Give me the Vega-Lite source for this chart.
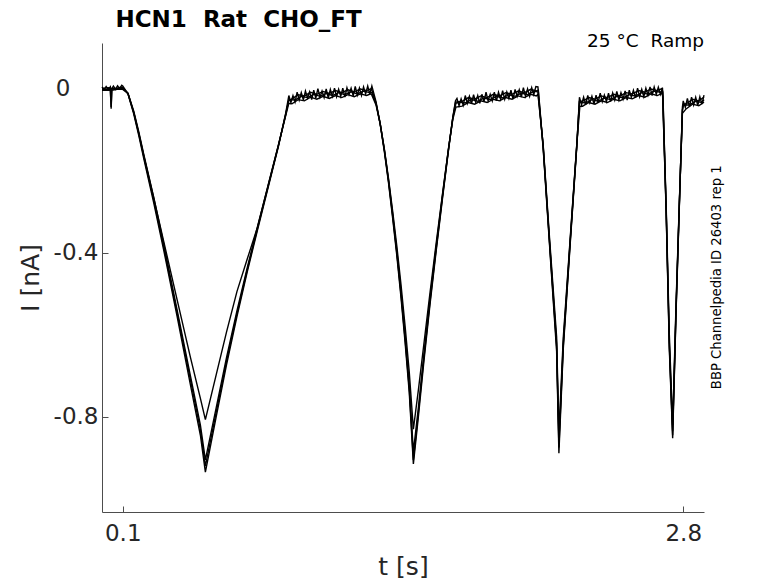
{
"$schema": "https://vega.github.io/schema/vega-lite/v6.json",
"width": 602, "height": 469,
"autosize": {"type": "none"},
"padding": {"left": 102, "top": 43, "right": 74, "bottom": 71},
"background": "white",
"config": {"view": {"stroke": null}, "font": "DejaVu Sans",
 "axis": {"domainColor": "#4d4d4d", "tickColor": "#4d4d4d", "tickSize": -6, "grid": false, "labelFont": "DejaVu Sans", "labelFontSize": 23, "labelColor": "#262626", "titleFont": "DejaVu Sans", "titleFontSize": 25, "titleFontWeight": "normal", "titleColor": "#262626"}},
"layer": [
{"data": {"values": [
{"trace":"a","t":0,"i":0.004},{"trace":"a","t":0.01,"i":-0.003},{"trace":"a","t":0.02,"i":0.005},{"trace":"a","t":0.03,"i":-0.002},{"trace":"a","t":0.04,"i":0.004},{"trace":"a","t":0.044,"i":-0.049},{"trace":"a","t":0.048,"i":0.0},{"trace":"a","t":0.055,"i":0.006},{"trace":"a","t":0.065,"i":-0.002},{"trace":"a","t":0.075,"i":0.007},{"trace":"a","t":0.085,"i":0.0},{"trace":"a","t":0.095,"i":0.008},{"trace":"a","t":0.1,"i":0.006},
{"trace":"a","t":0.125,"i":-0.013},{"trace":"a","t":0.153,"i":-0.062},{"trace":"a","t":0.177,"i":-0.114},{"trace":"a","t":0.201,"i":-0.17},{"trace":"a","t":0.249,"i":-0.278},{"trace":"a","t":0.297,"i":-0.393},{"trace":"a","t":0.362,"i":-0.556},{"trace":"a","t":0.426,"i":-0.722},{"trace":"a","t":0.474,"i":-0.845},{"trace":"a","t":0.498,"i":-0.935},
{"trace":"a","t":0.55,"i":-0.8},{"trace":"a","t":0.6,"i":-0.673},{"trace":"a","t":0.65,"i":-0.556},{"trace":"a","t":0.7,"i":-0.446},{"trace":"a","t":0.75,"i":-0.343},{"trace":"a","t":0.8,"i":-0.242},{"trace":"a","t":0.85,"i":-0.141},{"trace":"a","t":0.885,"i":-0.06},
{"trace":"a","t":0.9,"i":-0.017},{"trace":"a","t":0.91,"i":-0.034},{"trace":"a","t":0.92,"i":-0.017},{"trace":"a","t":0.93,"i":-0.033},{"trace":"a","t":0.94,"i":-0.009},{"trace":"a","t":0.95,"i":-0.028},{"trace":"a","t":0.96,"i":-0.01},{"trace":"a","t":0.97,"i":-0.028},{"trace":"a","t":0.98,"i":-0.006},{"trace":"a","t":0.99,"i":-0.023},
{"trace":"a","t":1.0,"i":-0.008},{"trace":"a","t":1.01,"i":-0.027},{"trace":"a","t":1.02,"i":-0.004},{"trace":"a","t":1.03,"i":-0.023},{"trace":"a","t":1.04,"i":0.0},{"trace":"a","t":1.05,"i":-0.021},{"trace":"a","t":1.06,"i":-0.006},{"trace":"a","t":1.07,"i":-0.022},{"trace":"a","t":1.08,"i":-0.001},{"trace":"a","t":1.09,"i":-0.023},
{"trace":"a","t":1.1,"i":-0.002},{"trace":"a","t":1.11,"i":-0.019},{"trace":"a","t":1.12,"i":0.001},{"trace":"a","t":1.13,"i":-0.02},{"trace":"a","t":1.14,"i":-0.002},{"trace":"a","t":1.15,"i":-0.019},{"trace":"a","t":1.16,"i":0.001},{"trace":"a","t":1.17,"i":-0.021},{"trace":"a","t":1.18,"i":0.002},{"trace":"a","t":1.19,"i":-0.015},
{"trace":"a","t":1.2,"i":0.001},{"trace":"a","t":1.21,"i":-0.018},{"trace":"a","t":1.22,"i":0.005},{"trace":"a","t":1.23,"i":-0.016},{"trace":"a","t":1.24,"i":0.001},{"trace":"a","t":1.25,"i":-0.017},{"trace":"a","t":1.26,"i":0.004},{"trace":"a","t":1.27,"i":-0.013},{"trace":"a","t":1.28,"i":0.006},{"trace":"a","t":1.29,"i":-0.014},
{"trace":"a","t":1.3,"i":0.006},{"trace":"a","t":1.32,"i":-0.032},{"trace":"a","t":1.34,"i":-0.087},{"trace":"a","t":1.36,"i":-0.153},{"trace":"a","t":1.38,"i":-0.229},{"trace":"a","t":1.4,"i":-0.315},{"trace":"a","t":1.42,"i":-0.406},{"trace":"a","t":1.44,"i":-0.507},{"trace":"a","t":1.46,"i":-0.618},{"trace":"a","t":1.48,"i":-0.74},{"trace":"a","t":1.5,"i":-0.915},
{"trace":"a","t":1.524,"i":-0.8},{"trace":"a","t":1.55,"i":-0.668},{"trace":"a","t":1.58,"i":-0.527},{"trace":"a","t":1.61,"i":-0.395},{"trace":"a","t":1.64,"i":-0.269},{"trace":"a","t":1.67,"i":-0.147},{"trace":"a","t":1.69,"i":-0.07},{"trace":"a","t":1.703,"i":-0.03},
{"trace":"a","t":1.71,"i":-0.024},{"trace":"a","t":1.72,"i":-0.042},{"trace":"a","t":1.73,"i":-0.025},{"trace":"a","t":1.74,"i":-0.041},{"trace":"a","t":1.75,"i":-0.017},{"trace":"a","t":1.76,"i":-0.036},{"trace":"a","t":1.77,"i":-0.019},{"trace":"a","t":1.78,"i":-0.037},{"trace":"a","t":1.79,"i":-0.015},
{"trace":"a","t":1.8,"i":-0.033},{"trace":"a","t":1.81,"i":-0.017},{"trace":"a","t":1.82,"i":-0.036},{"trace":"a","t":1.83,"i":-0.014},{"trace":"a","t":1.84,"i":-0.032},{"trace":"a","t":1.85,"i":-0.009},{"trace":"a","t":1.86,"i":-0.03},{"trace":"a","t":1.87,"i":-0.014},{"trace":"a","t":1.88,"i":-0.03},{"trace":"a","t":1.89,"i":-0.009},
{"trace":"a","t":1.9,"i":-0.03},{"trace":"a","t":1.91,"i":-0.009},{"trace":"a","t":1.92,"i":-0.026},{"trace":"a","t":1.93,"i":-0.005},{"trace":"a","t":1.94,"i":-0.026},{"trace":"a","t":1.95,"i":-0.008},{"trace":"a","t":1.96,"i":-0.024},{"trace":"a","t":1.97,"i":-0.004},{"trace":"a","t":1.98,"i":-0.026},{"trace":"a","t":1.99,"i":-0.002},
{"trace":"a","t":2.0,"i":-0.019},{"trace":"a","t":2.01,"i":-0.003},{"trace":"a","t":2.02,"i":-0.021},{"trace":"a","t":2.03,"i":0.002},{"trace":"a","t":2.04,"i":-0.019},{"trace":"a","t":2.05,"i":-0.001},{"trace":"a","t":2.06,"i":-0.019},{"trace":"a","t":2.07,"i":0.002},{"trace":"a","t":2.08,"i":-0.015},{"trace":"a","t":2.09,"i":0.005},
{"trace":"a","t":2.1,"i":0.004},{"trace":"a","t":2.125,"i":-0.145},{"trace":"a","t":2.157,"i":-0.39},{"trace":"a","t":2.19,"i":-0.64},{"trace":"a","t":2.201,"i":-0.889},{"trace":"a","t":2.222,"i":-0.635},{"trace":"a","t":2.254,"i":-0.39},{"trace":"a","t":2.287,"i":-0.143},{"trace":"a","t":2.3,"i":-0.021},
{"trace":"a","t":2.31,"i":-0.04},{"trace":"a","t":2.32,"i":-0.021},{"trace":"a","t":2.33,"i":-0.039},{"trace":"a","t":2.34,"i":-0.017},{"trace":"a","t":2.35,"i":-0.035},{"trace":"a","t":2.36,"i":-0.019},{"trace":"a","t":2.37,"i":-0.038},{"trace":"a","t":2.38,"i":-0.016},{"trace":"a","t":2.39,"i":-0.034},
{"trace":"a","t":2.4,"i":-0.011},{"trace":"a","t":2.41,"i":-0.032},{"trace":"a","t":2.42,"i":-0.016},{"trace":"a","t":2.43,"i":-0.032},{"trace":"a","t":2.44,"i":-0.011},{"trace":"a","t":2.45,"i":-0.032},{"trace":"a","t":2.46,"i":-0.011},{"trace":"a","t":2.47,"i":-0.028},{"trace":"a","t":2.48,"i":-0.007},{"trace":"a","t":2.49,"i":-0.028},
{"trace":"a","t":2.5,"i":-0.01},{"trace":"a","t":2.51,"i":-0.026},{"trace":"a","t":2.52,"i":-0.006},{"trace":"a","t":2.53,"i":-0.028},{"trace":"a","t":2.54,"i":-0.004},{"trace":"a","t":2.55,"i":-0.021},{"trace":"a","t":2.56,"i":-0.004},{"trace":"a","t":2.57,"i":-0.022},{"trace":"a","t":2.58,"i":0.001},{"trace":"a","t":2.59,"i":-0.02},
{"trace":"a","t":2.6,"i":-0.002},{"trace":"a","t":2.61,"i":-0.02},{"trace":"a","t":2.62,"i":0.001},{"trace":"a","t":2.63,"i":-0.016},{"trace":"a","t":2.64,"i":0.004},{"trace":"a","t":2.65,"i":-0.017},{"trace":"a","t":2.66,"i":0.004},{"trace":"a","t":2.67,"i":-0.014},{"trace":"a","t":2.68,"i":0.003},{"trace":"a","t":2.69,"i":-0.014},
{"trace":"a","t":2.7,"i":0.002},{"trace":"a","t":2.718,"i":-0.308},{"trace":"a","t":2.733,"i":-0.636},{"trace":"a","t":2.749,"i":-0.852},{"trace":"a","t":2.765,"i":-0.552},{"trace":"a","t":2.78,"i":-0.306},{"trace":"a","t":2.796,"i":-0.045},
{"trace":"a","t":2.8,"i":-0.03},{"trace":"a","t":2.81,"i":-0.046},{"trace":"a","t":2.82,"i":-0.024},{"trace":"a","t":2.83,"i":-0.044},{"trace":"a","t":2.84,"i":-0.021},{"trace":"a","t":2.85,"i":-0.04},{"trace":"a","t":2.86,"i":-0.021},{"trace":"a","t":2.87,"i":-0.041},{"trace":"a","t":2.88,"i":-0.02},{"trace":"a","t":2.89,"i":-0.038},{"trace":"a","t":2.9,"i":-0.016},

{"trace":"b","t":0,"i":0.0},{"trace":"b","t":0.03,"i":0.002},{"trace":"b","t":0.06,"i":-0.001},{"trace":"b","t":0.09,"i":0.003},{"trace":"b","t":0.1,"i":0.002},
{"trace":"b","t":0.125,"i":-0.012},{"trace":"b","t":0.153,"i":-0.059},{"trace":"b","t":0.177,"i":-0.11},{"trace":"b","t":0.201,"i":-0.165},{"trace":"b","t":0.249,"i":-0.271},{"trace":"b","t":0.297,"i":-0.385},{"trace":"b","t":0.362,"i":-0.547},{"trace":"b","t":0.426,"i":-0.71},{"trace":"b","t":0.474,"i":-0.832},{"trace":"b","t":0.498,"i":-0.92},
{"trace":"b","t":0.55,"i":-0.789},{"trace":"b","t":0.6,"i":-0.664},{"trace":"b","t":0.65,"i":-0.549},{"trace":"b","t":0.7,"i":-0.441},{"trace":"b","t":0.75,"i":-0.339},{"trace":"b","t":0.8,"i":-0.239},{"trace":"b","t":0.85,"i":-0.139},{"trace":"b","t":0.885,"i":-0.062},{"trace":"b","t":0.899,"i":-0.03},
{"trace":"b","t":0.915,"i":-0.025},{"trace":"b","t":0.945,"i":-0.015},{"trace":"b","t":0.975,"i":-0.018},{"trace":"b","t":1.005,"i":-0.009},{"trace":"b","t":1.035,"i":-0.014},{"trace":"b","t":1.065,"i":-0.007},{"trace":"b","t":1.095,"i":-0.012},{"trace":"b","t":1.125,"i":-0.005},{"trace":"b","t":1.155,"i":-0.01},{"trace":"b","t":1.185,"i":-0.003},{"trace":"b","t":1.215,"i":-0.008},{"trace":"b","t":1.245,"i":-0.001},{"trace":"b","t":1.275,"i":-0.005},{"trace":"b","t":1.295,"i":-0.001},
{"trace":"b","t":1.3,"i":-0.004},{"trace":"b","t":1.32,"i":-0.035},{"trace":"b","t":1.34,"i":-0.085},{"trace":"b","t":1.36,"i":-0.15},{"trace":"b","t":1.38,"i":-0.225},{"trace":"b","t":1.4,"i":-0.31},{"trace":"b","t":1.42,"i":-0.4},{"trace":"b","t":1.44,"i":-0.5},{"trace":"b","t":1.46,"i":-0.61},{"trace":"b","t":1.48,"i":-0.73},{"trace":"b","t":1.5,"i":-0.905},
{"trace":"b","t":1.524,"i":-0.79},{"trace":"b","t":1.55,"i":-0.66},{"trace":"b","t":1.58,"i":-0.52},{"trace":"b","t":1.61,"i":-0.39},{"trace":"b","t":1.64,"i":-0.265},{"trace":"b","t":1.67,"i":-0.145},{"trace":"b","t":1.69,"i":-0.07},{"trace":"b","t":1.703,"i":-0.033},
{"trace":"b","t":1.735,"i":-0.031},{"trace":"b","t":1.765,"i":-0.022},{"trace":"b","t":1.795,"i":-0.026},{"trace":"b","t":1.825,"i":-0.018},{"trace":"b","t":1.855,"i":-0.022},{"trace":"b","t":1.885,"i":-0.014},{"trace":"b","t":1.915,"i":-0.018},{"trace":"b","t":1.945,"i":-0.01},{"trace":"b","t":1.975,"i":-0.014},{"trace":"b","t":2.005,"i":-0.006},{"trace":"b","t":2.035,"i":-0.01},{"trace":"b","t":2.065,"i":-0.002},{"trace":"b","t":2.092,"i":-0.006},
{"trace":"b","t":2.102,"i":-0.004},{"trace":"b","t":2.125,"i":-0.141},{"trace":"b","t":2.157,"i":-0.385},{"trace":"b","t":2.19,"i":-0.628},{"trace":"b","t":2.201,"i":-0.875},{"trace":"b","t":2.222,"i":-0.628},{"trace":"b","t":2.254,"i":-0.385},{"trace":"b","t":2.287,"i":-0.141},{"trace":"b","t":2.3,"i":-0.031},
{"trace":"b","t":2.315,"i":-0.031},{"trace":"b","t":2.345,"i":-0.022},{"trace":"b","t":2.375,"i":-0.026},{"trace":"b","t":2.405,"i":-0.018},{"trace":"b","t":2.435,"i":-0.022},{"trace":"b","t":2.465,"i":-0.014},{"trace":"b","t":2.495,"i":-0.018},{"trace":"b","t":2.525,"i":-0.01},{"trace":"b","t":2.555,"i":-0.013},{"trace":"b","t":2.585,"i":-0.005},{"trace":"b","t":2.615,"i":-0.009},{"trace":"b","t":2.645,"i":-0.001},{"trace":"b","t":2.675,"i":-0.005},{"trace":"b","t":2.698,"i":0.0},
{"trace":"b","t":2.702,"i":-0.01},{"trace":"b","t":2.718,"i":-0.303},{"trace":"b","t":2.733,"i":-0.628},{"trace":"b","t":2.749,"i":-0.845},{"trace":"b","t":2.765,"i":-0.547},{"trace":"b","t":2.78,"i":-0.303},{"trace":"b","t":2.796,"i":-0.051},{"trace":"b","t":2.802,"i":-0.038},
{"trace":"b","t":2.815,"i":-0.037},{"trace":"b","t":2.845,"i":-0.026},{"trace":"b","t":2.875,"i":-0.03},{"trace":"b","t":2.9,"i":-0.021},

{"trace":"c","t":0,"i":-0.003},{"trace":"c","t":0.035,"i":-0.002},{"trace":"c","t":0.065,"i":0.0},{"trace":"c","t":0.1,"i":0.0},
{"trace":"c","t":0.125,"i":-0.011},{"trace":"c","t":0.153,"i":-0.055},{"trace":"c","t":0.177,"i":-0.105},{"trace":"c","t":0.201,"i":-0.16},{"trace":"c","t":0.249,"i":-0.265},{"trace":"c","t":0.297,"i":-0.378},{"trace":"c","t":0.362,"i":-0.54},{"trace":"c","t":0.426,"i":-0.7},{"trace":"c","t":0.474,"i":-0.82},{"trace":"c","t":0.498,"i":-0.905},
{"trace":"c","t":0.55,"i":-0.778},{"trace":"c","t":0.6,"i":-0.655},{"trace":"c","t":0.65,"i":-0.542},{"trace":"c","t":0.7,"i":-0.436},{"trace":"c","t":0.75,"i":-0.335},{"trace":"c","t":0.8,"i":-0.236},{"trace":"c","t":0.85,"i":-0.137},{"trace":"c","t":0.885,"i":-0.064},
{"trace":"c","t":0.9,"i":-0.027},{"trace":"c","t":0.93,"i":-0.028},{"trace":"c","t":0.96,"i":-0.019},{"trace":"c","t":0.99,"i":-0.022},{"trace":"c","t":1.02,"i":-0.014},{"trace":"c","t":1.05,"i":-0.019},{"trace":"c","t":1.08,"i":-0.012},{"trace":"c","t":1.11,"i":-0.017},{"trace":"c","t":1.14,"i":-0.01},{"trace":"c","t":1.17,"i":-0.015},{"trace":"c","t":1.2,"i":-0.008},{"trace":"c","t":1.23,"i":-0.013},{"trace":"c","t":1.26,"i":-0.006},{"trace":"c","t":1.29,"i":-0.01},
{"trace":"c","t":1.3,"i":-0.01},{"trace":"c","t":1.32,"i":-0.037},{"trace":"c","t":1.34,"i":-0.085},{"trace":"c","t":1.36,"i":-0.148},{"trace":"c","t":1.38,"i":-0.222},{"trace":"c","t":1.4,"i":-0.305},{"trace":"c","t":1.42,"i":-0.394},{"trace":"c","t":1.44,"i":-0.492},{"trace":"c","t":1.46,"i":-0.6},{"trace":"c","t":1.48,"i":-0.72},{"trace":"c","t":1.5,"i":-0.885},
{"trace":"c","t":1.524,"i":-0.778},{"trace":"c","t":1.55,"i":-0.65},{"trace":"c","t":1.58,"i":-0.512},{"trace":"c","t":1.61,"i":-0.384},{"trace":"c","t":1.64,"i":-0.261},{"trace":"c","t":1.67,"i":-0.143},{"trace":"c","t":1.69,"i":-0.072},{"trace":"c","t":1.705,"i":-0.036},
{"trace":"c","t":1.72,"i":-0.033},{"trace":"c","t":1.75,"i":-0.035},{"trace":"c","t":1.78,"i":-0.027},{"trace":"c","t":1.81,"i":-0.031},{"trace":"c","t":1.84,"i":-0.023},{"trace":"c","t":1.87,"i":-0.027},{"trace":"c","t":1.9,"i":-0.019},{"trace":"c","t":1.93,"i":-0.023},{"trace":"c","t":1.96,"i":-0.015},{"trace":"c","t":1.99,"i":-0.019},{"trace":"c","t":2.02,"i":-0.011},{"trace":"c","t":2.05,"i":-0.015},{"trace":"c","t":2.08,"i":-0.007},
{"trace":"c","t":2.1,"i":-0.008},{"trace":"c","t":2.125,"i":-0.138},{"trace":"c","t":2.157,"i":-0.38},{"trace":"c","t":2.19,"i":-0.62},{"trace":"c","t":2.201,"i":-0.86},{"trace":"c","t":2.222,"i":-0.62},{"trace":"c","t":2.254,"i":-0.38},{"trace":"c","t":2.287,"i":-0.138},{"trace":"c","t":2.3,"i":-0.033},
{"trace":"c","t":2.33,"i":-0.035},{"trace":"c","t":2.36,"i":-0.027},{"trace":"c","t":2.39,"i":-0.031},{"trace":"c","t":2.42,"i":-0.023},{"trace":"c","t":2.45,"i":-0.027},{"trace":"c","t":2.48,"i":-0.019},{"trace":"c","t":2.51,"i":-0.023},{"trace":"c","t":2.54,"i":-0.015},{"trace":"c","t":2.57,"i":-0.018},{"trace":"c","t":2.6,"i":-0.01},{"trace":"c","t":2.63,"i":-0.014},{"trace":"c","t":2.66,"i":-0.006},{"trace":"c","t":2.69,"i":-0.009},
{"trace":"c","t":2.7,"i":-0.008},{"trace":"c","t":2.718,"i":-0.298},{"trace":"c","t":2.733,"i":-0.62},{"trace":"c","t":2.749,"i":-0.835},{"trace":"c","t":2.765,"i":-0.54},{"trace":"c","t":2.78,"i":-0.3},{"trace":"c","t":2.796,"i":-0.055},{"trace":"c","t":2.8,"i":-0.04},
{"trace":"c","t":2.83,"i":-0.04},{"trace":"c","t":2.86,"i":-0.031},{"trace":"c","t":2.89,"i":-0.034},{"trace":"c","t":2.9,"i":-0.027},

{"trace":"d","t":0,"i":-0.004},{"trace":"d","t":0.04,"i":-0.004},{"trace":"d","t":0.044,"i":-0.045},{"trace":"d","t":0.047,"i":-0.004},{"trace":"d","t":0.08,"i":-0.001},{"trace":"d","t":0.1,"i":-0.002},
{"trace":"d","t":0.125,"i":-0.012},{"trace":"d","t":0.153,"i":-0.058},{"trace":"d","t":0.177,"i":-0.108},{"trace":"d","t":0.201,"i":-0.163},{"trace":"d","t":0.249,"i":-0.266},{"trace":"d","t":0.297,"i":-0.372},{"trace":"d","t":0.362,"i":-0.515},{"trace":"d","t":0.426,"i":-0.655},{"trace":"d","t":0.474,"i":-0.755},{"trace":"d","t":0.498,"i":-0.807},
{"trace":"d","t":0.55,"i":-0.698},{"trace":"d","t":0.6,"i":-0.593},{"trace":"d","t":0.65,"i":-0.495},{"trace":"d","t":0.7,"i":-0.415},{"trace":"d","t":0.75,"i":-0.336},{"trace":"d","t":0.8,"i":-0.237},{"trace":"d","t":0.85,"i":-0.138},{"trace":"d","t":0.885,"i":-0.066},{"trace":"d","t":0.9,"i":-0.036},
{"trace":"d","t":0.915,"i":-0.037},{"trace":"d","t":0.945,"i":-0.027},{"trace":"d","t":0.975,"i":-0.03},{"trace":"d","t":1.005,"i":-0.021},{"trace":"d","t":1.035,"i":-0.026},{"trace":"d","t":1.065,"i":-0.019},{"trace":"d","t":1.095,"i":-0.024},{"trace":"d","t":1.125,"i":-0.017},{"trace":"d","t":1.155,"i":-0.022},{"trace":"d","t":1.185,"i":-0.015},{"trace":"d","t":1.215,"i":-0.02},{"trace":"d","t":1.245,"i":-0.013},{"trace":"d","t":1.275,"i":-0.017},{"trace":"d","t":1.295,"i":-0.013},
{"trace":"d","t":1.3,"i":-0.016},{"trace":"d","t":1.32,"i":-0.04},{"trace":"d","t":1.34,"i":-0.086},{"trace":"d","t":1.36,"i":-0.147},{"trace":"d","t":1.38,"i":-0.218},{"trace":"d","t":1.4,"i":-0.298},{"trace":"d","t":1.42,"i":-0.383},{"trace":"d","t":1.44,"i":-0.476},{"trace":"d","t":1.46,"i":-0.578},{"trace":"d","t":1.48,"i":-0.69},{"trace":"d","t":1.5,"i":-0.83},
{"trace":"d","t":1.524,"i":-0.735},{"trace":"d","t":1.55,"i":-0.625},{"trace":"d","t":1.58,"i":-0.498},{"trace":"d","t":1.61,"i":-0.376},{"trace":"d","t":1.64,"i":-0.258},{"trace":"d","t":1.67,"i":-0.143},{"trace":"d","t":1.69,"i":-0.075},{"trace":"d","t":1.705,"i":-0.045},
{"trace":"d","t":1.735,"i":-0.043},{"trace":"d","t":1.765,"i":-0.034},{"trace":"d","t":1.795,"i":-0.038},{"trace":"d","t":1.825,"i":-0.03},{"trace":"d","t":1.855,"i":-0.034},{"trace":"d","t":1.885,"i":-0.026},{"trace":"d","t":1.915,"i":-0.03},{"trace":"d","t":1.945,"i":-0.022},{"trace":"d","t":1.975,"i":-0.026},{"trace":"d","t":2.005,"i":-0.018},{"trace":"d","t":2.035,"i":-0.022},{"trace":"d","t":2.065,"i":-0.014},{"trace":"d","t":2.092,"i":-0.018},
{"trace":"d","t":2.1,"i":-0.014},{"trace":"d","t":2.125,"i":-0.135},{"trace":"d","t":2.157,"i":-0.372},{"trace":"d","t":2.19,"i":-0.605},{"trace":"d","t":2.201,"i":-0.84},{"trace":"d","t":2.222,"i":-0.608},{"trace":"d","t":2.254,"i":-0.375},{"trace":"d","t":2.287,"i":-0.138},{"trace":"d","t":2.302,"i":-0.043},
{"trace":"d","t":2.315,"i":-0.043},{"trace":"d","t":2.345,"i":-0.034},{"trace":"d","t":2.375,"i":-0.038},{"trace":"d","t":2.405,"i":-0.03},{"trace":"d","t":2.435,"i":-0.034},{"trace":"d","t":2.465,"i":-0.026},{"trace":"d","t":2.495,"i":-0.03},{"trace":"d","t":2.525,"i":-0.022},{"trace":"d","t":2.555,"i":-0.025},{"trace":"d","t":2.585,"i":-0.017},{"trace":"d","t":2.615,"i":-0.021},{"trace":"d","t":2.645,"i":-0.013},{"trace":"d","t":2.675,"i":-0.017},{"trace":"d","t":2.698,"i":-0.012},
{"trace":"d","t":2.702,"i":-0.02},{"trace":"d","t":2.718,"i":-0.29},{"trace":"d","t":2.733,"i":-0.6},{"trace":"d","t":2.749,"i":-0.82},{"trace":"d","t":2.765,"i":-0.53},{"trace":"d","t":2.78,"i":-0.295},{"trace":"d","t":2.796,"i":-0.06},
{"trace":"d","t":2.815,"i":-0.049},{"trace":"d","t":2.845,"i":-0.038},{"trace":"d","t":2.875,"i":-0.042},{"trace":"d","t":2.9,"i":-0.033}
]},
"mark": {"type": "line", "color": "#000000", "strokeWidth": 1.4},
"encoding": {
 "x": {"field": "t", "type": "quantitative", "scale": {"domain": [0, 2.9], "nice": false, "zero": false},
   "axis": {"values": [0.1, 2.8], "format": ".1f", "title": "t [s]", "labelPadding": 16, "titlePadding": 9}},
 "y": {"field": "i", "type": "quantitative", "scale": {"domain": [-1.032, 0.111], "nice": false, "zero": false},
   "axis": {"values": [0, -0.4, -0.8], "title": "I [nA]", "titlePadding": 10,
     "labelPadding": {"condition": {"test": "datum.value == 0", "value": 38}, "value": 10},
     "labelExpr": "datum.value == 0 ? '0' : replace(format(datum.value, '.1f'), '\u2212', '-')"}},
 "detail": {"field": "trace", "type": "nominal"}
}},
{"data": {"values": [{"label": "HCN1\u00a0 Rat\u00a0 CHO_FT"}]},
 "mark": {"type": "text", "align": "left", "baseline": "alphabetic", "fontSize": 23, "fontWeight": "bold", "font": "DejaVu Sans", "color": "#000000"},
 "encoding": {"text": {"field": "label"}, "x": {"datum": 0.065, "type": "quantitative"}, "y": {"datum": 0.151, "type": "quantitative"}}},
{"data": {"values": [{"label": "25 \u00b0C\u00a0 Ramp"}]},
 "mark": {"type": "text", "align": "right", "baseline": "alphabetic", "fontSize": 18.5, "font": "DejaVu Sans", "color": "#000000"},
 "encoding": {"text": {"field": "label"}, "x": {"datum": 2.9, "type": "quantitative"}, "y": {"datum": 0.102, "type": "quantitative"}}},
{"data": {"values": [{"label": "BBP Channelpedia ID 26403 rep 1"}]},
 "mark": {"type": "text", "align": "center", "baseline": "middle", "angle": 270, "fontSize": 13.2, "font": "DejaVu Sans", "color": "#000000"},
 "encoding": {"text": {"field": "label"}, "x": {"datum": 2.965, "type": "quantitative"}, "y": {"datum": -0.46, "type": "quantitative"}}}
]
}
